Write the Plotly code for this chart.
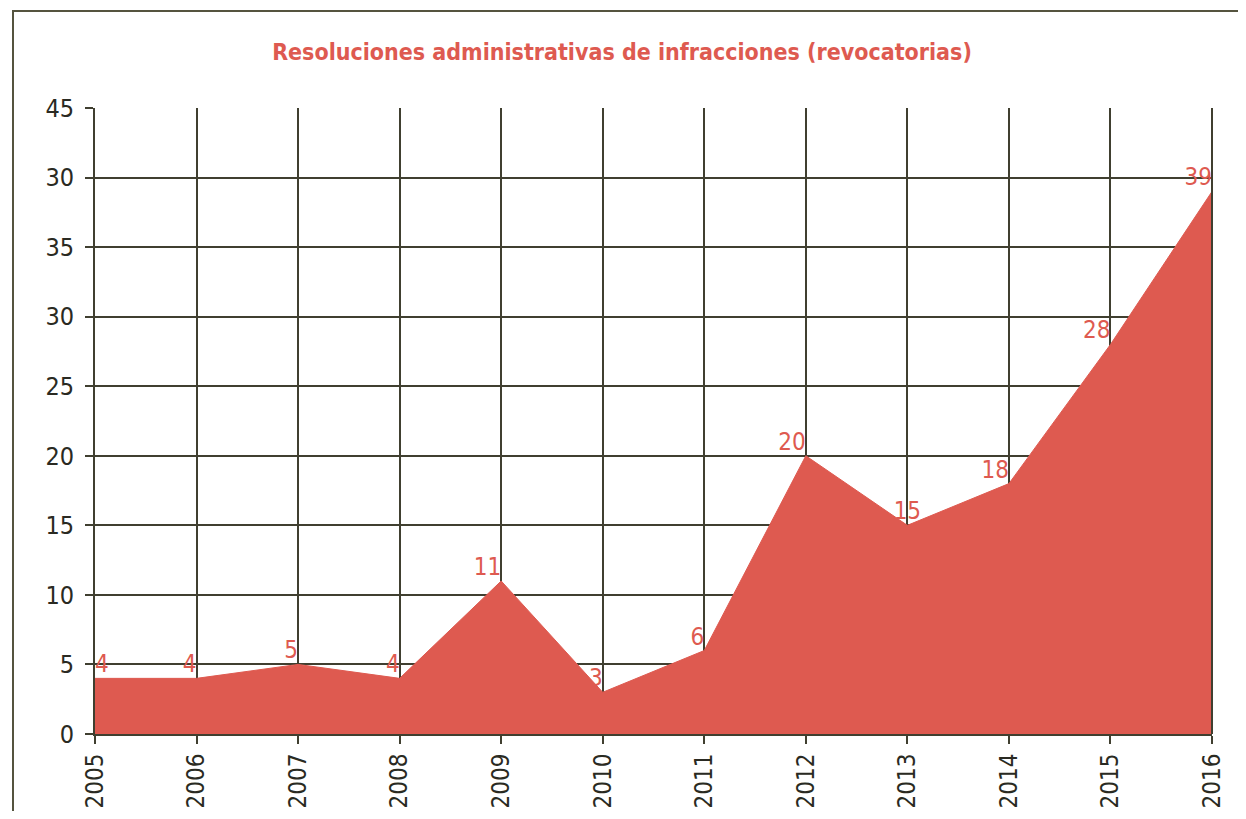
import plotly.graph_objects as go

years = [2005, 2006, 2007, 2008, 2009, 2010, 2011, 2012, 2013, 2014, 2015, 2016]
values = [4, 4, 5, 4, 11, 3, 6, 20, 15, 18, 28, 39]
y_tickvals = [0, 5, 10, 15, 20, 25, 30, 35, 40, 45]
y_ticktext = ["0", "5", "10", "15", "20", "25", "30", "35", "30", "45"]
title_text = "Resoluciones administrativas de infracciones (revocatorias)"

RED = "#de5a50"
GRID = "#403f30"
FONT = "DejaVu Sans Condensed, Liberation Sans Narrow, sans-serif"

positions = ["top right"] + ["top left"] * 7 + ["top center"] + ["top left"] * 3

# page body has an 8px margin; figure is sized/positioned to compensate
OFF = 8
W, H = 1246 - OFF * 2, 819 - OFF * 2
L, R, T, B = 95 - OFF, W - (1212 - OFF), 108 - OFF, H - (734 - OFF)

fig = go.Figure()
fig.add_trace(go.Scatter(
    x=years, y=values, mode="lines+text",
    fill="tozeroy", fillcolor=RED,
    line=dict(color=RED, width=1),
    text=[str(v) for v in values], textposition=positions,
    textfont=dict(color=RED, size=24, family=FONT),
    cliponaxis=False, hoverinfo="skip",
))

fig.update_layout(
    width=W, height=H,
    margin=dict(l=L, r=R, t=T, b=B, autoexpand=False),
    paper_bgcolor="white", plot_bgcolor="white",
    showlegend=False,
    title=dict(text="<b>" + title_text + "</b>", x=(622 - OFF) / W, xanchor="center",
               y=1 - (52 - OFF) / H, yanchor="middle",
               font=dict(color=RED, size=23, family=FONT)),
    font=dict(family=FONT, color="#2a2a22", size=24),
)
fig.update_xaxes(
    range=[2005, 2016], tickvals=years, ticktext=[str(y) for y in years],
    tickangle=-90, showgrid=True, gridcolor=GRID, gridwidth=2,
    ticks="outside", ticklen=8, tickwidth=2, tickcolor=GRID,
    showline=True, linecolor=GRID, linewidth=2, zeroline=False,
    automargin=False,
    tickfont=dict(size=24, family=FONT, color="#2a2a22"),
)
fig.update_yaxes(
    range=[0, 45], tickvals=y_tickvals, ticktext=y_ticktext,
    showgrid=True, gridcolor=GRID, gridwidth=2,
    ticks="outside", ticklen=8, tickwidth=2, tickcolor=GRID,
    showline=True, linecolor=GRID, linewidth=2, zeroline=False,
    ticklabelstandoff=6, automargin=False,
    tickfont=dict(size=25, family=FONT, color="#2a2a22"),
)
fig.add_shape(type="line", xref="paper", yref="paper", x0=1, x1=1, y0=0, y1=1,
              line=dict(color=GRID, width=2))
# outer frame
pw, ph = W - L - R, H - T - B
fx0 = (13 - 95) / pw
fx1 = (1242 - 95) / pw
fy1 = (734 - 11) / ph
fig.add_shape(type="path", xref="paper", yref="paper",
              path=f"M {fx0} -0.3 L {fx0} {fy1} L {fx1} {fy1} L {fx1} -0.3",
              line=dict(color="#55543f", width=2), layer="below")

fig.write_html("out.html")
